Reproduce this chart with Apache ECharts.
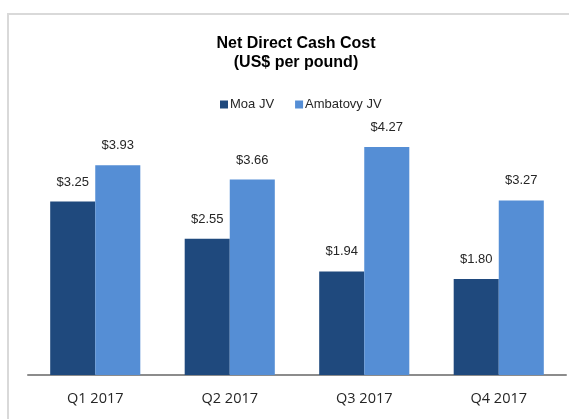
<html lang="en">
<head>
    <meta charset="UTF-8">
    <script src="https://cdn.jsdelivr.net/npm/echarts@6/dist/echarts.min.js"></script>
    <style type="text/css">
        html, body {
            margin: 0;
            padding: 0;
            background: #fff;
        }
        #frame {
            position: absolute;
            left: 7px;
            top: 13px;
            width: 600px;
            height: 500px;
            border-top: 2px solid #d9d9d9;
            border-left: 2px solid #d9d9d9;
        }
        #main {
            position: absolute;
            left: 0;
            top: 0;
            width: 569px;
            height: 419px;
        }
    </style>
    <title>Net Direct Cash Cost</title>
</head>
<body>
<div id="frame"></div>
<div id="main"></div>
<script>
    var quarters = ['Q1 2017', 'Q2 2017', 'Q3 2017', 'Q4 2017'];
    var moaJV = [3.25, 2.55, 1.94, 1.80];
    var ambatovyJV = [3.93, 3.66, 4.27, 3.27];

    var myChart = echarts.init(document.getElementById('main'));

    var barLabel = {
        show: true,
        position: 'top',
        distance: 13,
        color: '#262626',
        fontFamily: 'Liberation Sans, Arial',
        fontSize: 13,
        formatter: function (p) {
            return '$' + p.value.toFixed(2);
        }
    };

    option = {
        animation: false,
        title: {
            text: 'Net Direct Cash Cost\n(US$ per pound)',
            left: 291,
            top: 29,
            textAlign: 'center',
            textStyle: {
                fontFamily: 'Liberation Sans, Arial',
                fontSize: 16,
                fontWeight: 'bold',
                color: '#000',
                lineHeight: 19
            }
        },
        legend: {
            top: 93,
            left: 215,
            itemWidth: 8,
            itemHeight: 8,
            itemGap: 21,
            icon: 'rect',
            textStyle: {
                fontFamily: 'Liberation Sans, Arial',
                fontSize: 13,
                color: '#262626',
                padding: [0, 0, 0, -3]
            },
            data: ['Moa JV', 'Ambatovy JV']
        },
        grid: {
            left: 28,
            right: 3,
            top: 108,
            bottom: 44
        },
        xAxis: {
            type: 'category',
            data: quarters,
            axisLine: {lineStyle: {color: '#8c8c8c', width: 2}},
            axisTick: {show: false},
            axisLabel: {
                margin: 16,
                color: '#262626',
                fontFamily: 'Open Sans',
                fontSize: 14.5
            }
        },
        yAxis: {
            type: 'value',
            min: 0,
            max: 5,
            show: false,
            splitLine: {show: false}
        },
        series: [
            {
                name: 'Moa JV',
                type: 'bar',
                data: moaJV,
                barGap: '0%',
                barCategoryGap: '33%',
                itemStyle: {color: '#1f497d'},
                label: barLabel
            },
            {
                name: 'Ambatovy JV',
                type: 'bar',
                data: ambatovyJV,
                itemStyle: {color: '#558ed5'},
                label: barLabel
            }
        ]
    };

    myChart.setOption(option);
</script>
</body>
</html>
